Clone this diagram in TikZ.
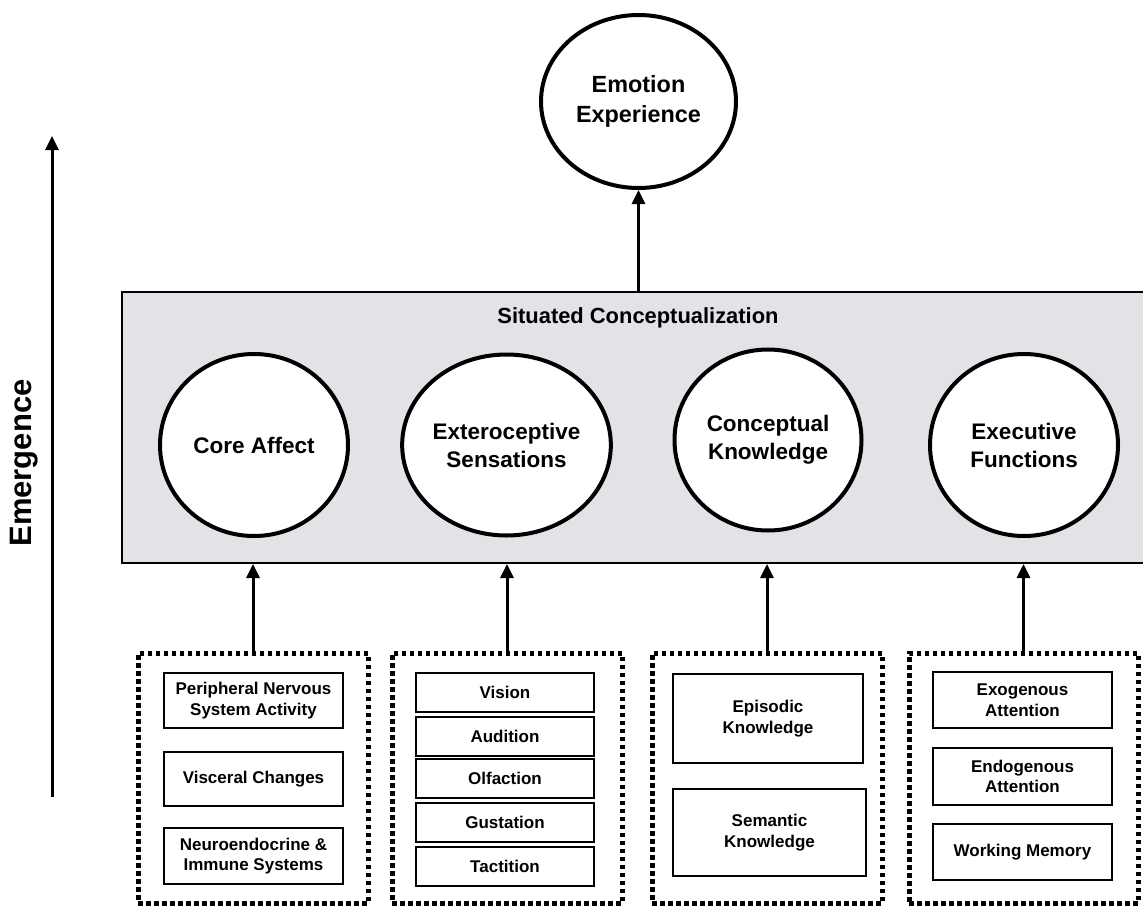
\documentclass[tikz,border=0pt]{standalone}
\usepackage{fontspec}
\setmainfont{Liberation Sans}
\usetikzlibrary{shapes.geometric,arrows.meta}
\definecolor{scgray}{RGB}{225,227,230}
\begin{document}
\begin{tikzpicture}[x=1pt,y=-1pt,
  arr/.style={line width=3pt,-{Triangle[width=13pt,length=14pt]}},
  bigcirc/.style={ellipse,draw,line width=4pt,fill=white,inner sep=0pt,align=center,
    font=\bfseries\fontsize{22.5}{28}\selectfont},
  graybox/.style={draw,line width=2pt,fill=scgray,inner sep=0pt},
  dotbox/.style={draw,line width=5pt,dash pattern=on 4.5pt off 3.5pt,inner sep=0pt},
  smallbox/.style={draw,line width=2pt,fill=white,inner sep=0pt,align=center,
    font=\bfseries\fontsize{17}{20.5}\selectfont}]
\useasboundingbox (0,0) rectangle (1143,907);
% Emergence axis
\node[rotate=90,font=\bfseries\fontsize{31}{36}\selectfont] (em) at (24,463) {Emergence};
\coordinate (ea) at (52,797);
\coordinate (eb) at (52,136);
\draw[arr] (ea) -- (eb);
% Emotion experience
\node[bigcirc,minimum width=195pt,minimum height=173pt,font=\bfseries\fontsize{23.4}{30}\selectfont] (ee) at (638.5,101.5) {Emotion\\Experience};
% Situated conceptualization
\node[graybox,minimum width=1024pt,minimum height=271pt] (sc) at (634,427.5) {};
\node[font=\bfseries\fontsize{21.9}{26}\selectfont] (sct) at (638,318) {Situated Conceptualization};
\draw[arr] (ee.south |- sc.north) -- (ee.south);
\node[bigcirc,minimum width=188pt,minimum height=182pt] (ca) at (254,445) {Core Affect};
\node[bigcirc,minimum width=189pt,minimum height=181pt] (es) at (506.5,445) {Exteroceptive\\Sensations};
\node[bigcirc,minimum width=187pt,minimum height=181pt] (ck) at (768,440) {Conceptual\\Knowledge};
\node[bigcirc,minimum width=188pt,minimum height=182pt] (ef) at (1024,445) {Executive\\Functions};
% dotted groups
\node[dotbox,minimum width=230pt,minimum height=250pt] (g1) at (253,778) {};
\node[dotbox,minimum width=230pt,minimum height=250pt] (g2) at (507,778) {};
\node[dotbox,minimum width=230pt,minimum height=250pt] (g3) at (767,778) {};
\node[dotbox,minimum width=229pt,minimum height=250pt] (g4) at (1023.5,778) {};
\draw[arr] (g1.north) -- (g1.north |- sc.south);
\draw[arr] (g2.north) -- (g2.north |- sc.south);
\draw[arr] (g3.north) -- (g3.north |- sc.south);
\draw[arr] (g4.north) -- (g4.north |- sc.south);
% group 1
\node[smallbox,minimum width=179pt,minimum height=55pt] (b11) at (253.5,700.5) {Peripheral Nervous\\System Activity};
\node[smallbox,minimum width=179pt,minimum height=54pt] (b12) at (253.5,779) {Visceral Changes};
\node[smallbox,minimum width=179pt,minimum height=56pt] (b13) at (253.5,856) {Neuroendocrine \&\\Immune Systems};
% group 2
\node[smallbox,minimum width=178pt,minimum height=39pt] (b21) at (505,692.5) {Vision};
\node[smallbox,minimum width=178pt,minimum height=39pt] (b22) at (505,736) {Audition};
\node[smallbox,minimum width=178pt,minimum height=39pt] (b23) at (505,778.5) {Olfaction};
\node[smallbox,minimum width=178pt,minimum height=39pt] (b24) at (505,822) {Gustation};
\node[smallbox,minimum width=178pt,minimum height=39pt] (b25) at (505,866) {Tactition};
% group 3
\node[smallbox,minimum width=190pt,minimum height=89pt] (b31) at (768,718.5) {Episodic\\Knowledge};
\node[smallbox,minimum width=193pt,minimum height=87pt] (b32) at (769.5,832.5) {Semantic\\Knowledge};
% group 4
\node[smallbox,minimum width=179pt,minimum height=56pt] (b41) at (1022.5,700) {Exogenous\\Attention};
\node[smallbox,minimum width=179pt,minimum height=57pt] (b42) at (1022.5,776.5) {Endogenous\\Attention};
\node[smallbox,minimum width=179pt,minimum height=56pt] (b43) at (1022.5,852) {Working Memory};
\end{tikzpicture}
\end{document}
